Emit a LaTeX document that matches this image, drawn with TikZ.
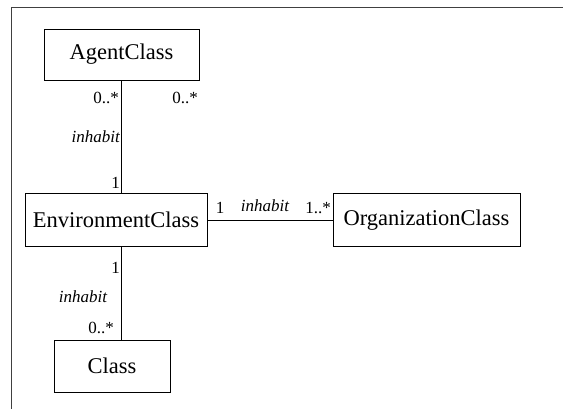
\documentclass[tikz,border=0pt]{standalone}
\usepackage{fontspec}
\setmainfont{Liberation Serif}
\begin{document}
\begin{tikzpicture}[x=1pt,y=-1pt,
  cls/.style={draw, line width=0.8pt, inner sep=0pt, font=\fontsize{22.5}{24}\selectfont},
  mult/.style={inner sep=0pt, font=\fontsize{17}{19}\selectfont},
  role/.style={inner sep=0pt, font=\fontsize{17}{19}\selectfont\itshape},
  assoc/.style={line width=0.75pt}]
\useasboundingbox (0,0) rectangle (563,409);
\draw[black!75, line width=0.8pt] (11,409) -- (11,7) -- (563,7);
\node[cls, minimum width=155pt, minimum height=51pt] (agent) at (121.5,54.5) {AgentClass};
\node[cls, minimum width=182pt, minimum height=53pt] (env) at (116,220) {EnvironmentClass};
\node[cls, minimum width=187pt, minimum height=53pt] (org) at (426.5,220) {OrganizationClass};
\node[cls, minimum width=116pt, minimum height=52pt] (cls) at (112,366) {Class};
\draw[assoc] (agent.south) -- (agent.south |- env.north);
\draw[assoc] (env.south -| agent.south) -- (cls.north -| agent.south);
\draw[assoc] (env.east) -- (org.west);
\node[mult, anchor=east] (m1) at (119,98) {0..*};
\node[mult] (m2) at (185,98) {0..*};
\node[role, anchor=east] (r1) at (120,137) {inhabit};
\node[mult, anchor=east] (m3) at (120,183) {1};
\node[mult] (m4) at (220,208) {1};
\node[role] (r2) at (265,206) {inhabit};
\node[mult] (m5) at (318,208) {1..*};
\node[mult, anchor=east] (m6) at (120,268) {1};
\node[role] (r3) at (83,297) {inhabit};
\node[mult, anchor=east] (m7) at (114,328) {0..*};
\end{tikzpicture}
\end{document}
